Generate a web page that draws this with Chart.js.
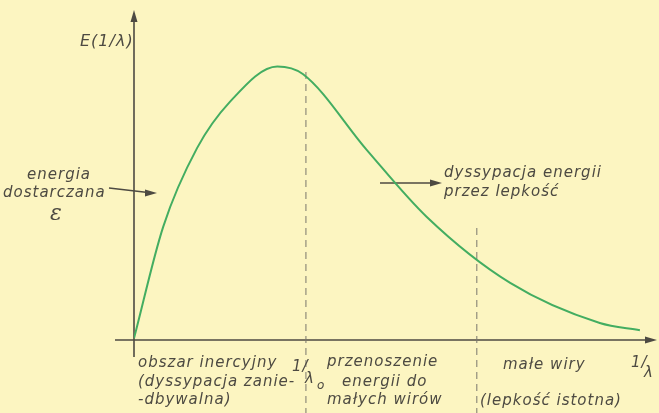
<!DOCTYPE html>
<html>
<head>
<meta charset="utf-8">
<script src="https://cdn.jsdelivr.net/npm/chart.js@4"></script>
<style>
  html, body { margin: 0; padding: 0; background: #fcf5c1; }
  #wrap { width: 659px; height: 413px; position: relative; }
</style>
</head>
<body>
<div id="wrap"><canvas id="chart" width="659" height="413"></canvas></div>
<script>
// spectrum curve E(1/λ) (x: 1/λ, y: E, arbitrary units 0..100)
const waveNumbers = [0, 5.6, 12.1, 18.4, 27.5, 32.4, 44.7, 56.2, 72.2, 89.4, 97.1];
const energy      = [0.5, 34.5, 58.5, 72.6, 83.4, 81.1, 57.9, 37.5, 17.4, 5.2, 3.0];

// region boundaries (dashed lines)
const lambda0 = 33.0;
const viscousStart = 65.8;

const ink = '#4d4a42';
const font = 'italic 15px "DejaVu Sans"';

function arrowHead(ctx, x, y, dir) {
  ctx.beginPath();
  if (dir === 'right') {
    ctx.moveTo(x, y); ctx.lineTo(x - 12, y - 3.5); ctx.lineTo(x - 12, y + 3.5);
  } else {
    ctx.moveTo(x, y); ctx.lineTo(x - 3.5, y + 12); ctx.lineTo(x + 3.5, y + 12);
  }
  ctx.closePath();
  ctx.fill();
}

const decor = {
  id: 'decor',
  beforeDatasetsDraw(chart) {
    const { ctx, scales: { x, y } } = chart;
    const x0 = x.getPixelForValue(0), y0 = y.getPixelForValue(0);
    ctx.save();
    ctx.strokeStyle = ink; ctx.fillStyle = ink; ctx.lineWidth = 1.6;
    // axes
    ctx.beginPath();
    ctx.moveTo(115, y0); ctx.lineTo(650, y0);
    ctx.moveTo(x0, 357); ctx.lineTo(x0, 16);
    ctx.stroke();
    arrowHead(ctx, 657, y0, 'right');
    arrowHead(ctx, x0, 10, 'up');
    // dashed region lines
    ctx.lineWidth = 1;
    ctx.strokeStyle = '#7a766c';
    ctx.setLineDash([7, 5]);
    ctx.beginPath();
    ctx.moveTo(x.getPixelForValue(lambda0), 72); ctx.lineTo(x.getPixelForValue(lambda0), 413);
    ctx.moveTo(x.getPixelForValue(viscousStart), 228); ctx.lineTo(x.getPixelForValue(viscousStart), 413);
    ctx.stroke();
    ctx.setLineDash([]);
    // annotation arrows
    ctx.strokeStyle = ink; ctx.lineWidth = 1.3;
    ctx.beginPath();
    ctx.moveTo(109, 188); ctx.lineTo(148, 192.5);
    ctx.moveTo(380, 183); ctx.lineTo(432, 183);
    ctx.stroke();
    arrowHead(ctx, 157, 193, 'right');
    arrowHead(ctx, 442, 183, 'right');
    ctx.restore();
  },
  afterDraw(chart) {
    const { ctx } = chart;
    ctx.save();
    ctx.fillStyle = ink;
    ctx.textBaseline = 'middle';
    ctx.textAlign = 'left';
    ctx.letterSpacing = '1px';
    ctx.font = 'italic 16px "DejaVu Sans"';
    ctx.fillText('E(1/λ)', 80, 42);
    ctx.font = font;
    ctx.fillText('energia', 27, 175);
    ctx.fillText('dostarczana', 3, 193);
    ctx.font = 'italic 22px "DejaVu Serif"';
    ctx.fillText('ε', 50, 214);
    ctx.font = font;
    ctx.fillText('dyssypacja energii', 444, 173);
    ctx.fillText('przez lepkość', 444, 192);
    ctx.fillText('obszar inercyjny', 138, 363);
    ctx.fillText('(dyssypacja zanie-', 138, 382);
    ctx.fillText('-dbywalna)', 138, 400);
    ctx.fillText('1/', 292, 367);
    ctx.fillText('λ', 305, 379);
    ctx.font = 'italic 12px "DejaVu Sans"';
    ctx.fillText('o', 317, 386);
    ctx.font = font;
    ctx.fillText('przenoszenie', 327, 362);
    ctx.fillText('energii do', 342, 382);
    ctx.fillText('małych wirów', 327, 400);
    ctx.fillText('małe wiry', 503, 365);
    ctx.fillText('(lepkość istotna)', 480, 401);
    ctx.fillText('1/', 631, 363);
    ctx.fillText('λ', 644, 373);
    ctx.restore();
  }
};

new Chart(document.getElementById('chart'), {
  type: 'line',
  data: {
    datasets: [{
      data: waveNumbers.map((v, i) => ({ x: v, y: energy[i] })),
      borderColor: '#43ad61',
      borderWidth: 2,
      pointRadius: 0,
      fill: false,
      cubicInterpolationMode: 'monotone'
    }]
  },
  options: {
    responsive: false,
    animation: false,
    layout: { padding: { left: 134, right: 4, top: 12, bottom: 73 } },
    scales: {
      x: { type: 'linear', min: 0, max: 100, display: false },
      y: { min: 0, max: 100, display: false }
    },
    plugins: { legend: { display: false }, tooltip: { enabled: false } }
  },
  plugins: [decor]
});
</script>
</body>
</html>
